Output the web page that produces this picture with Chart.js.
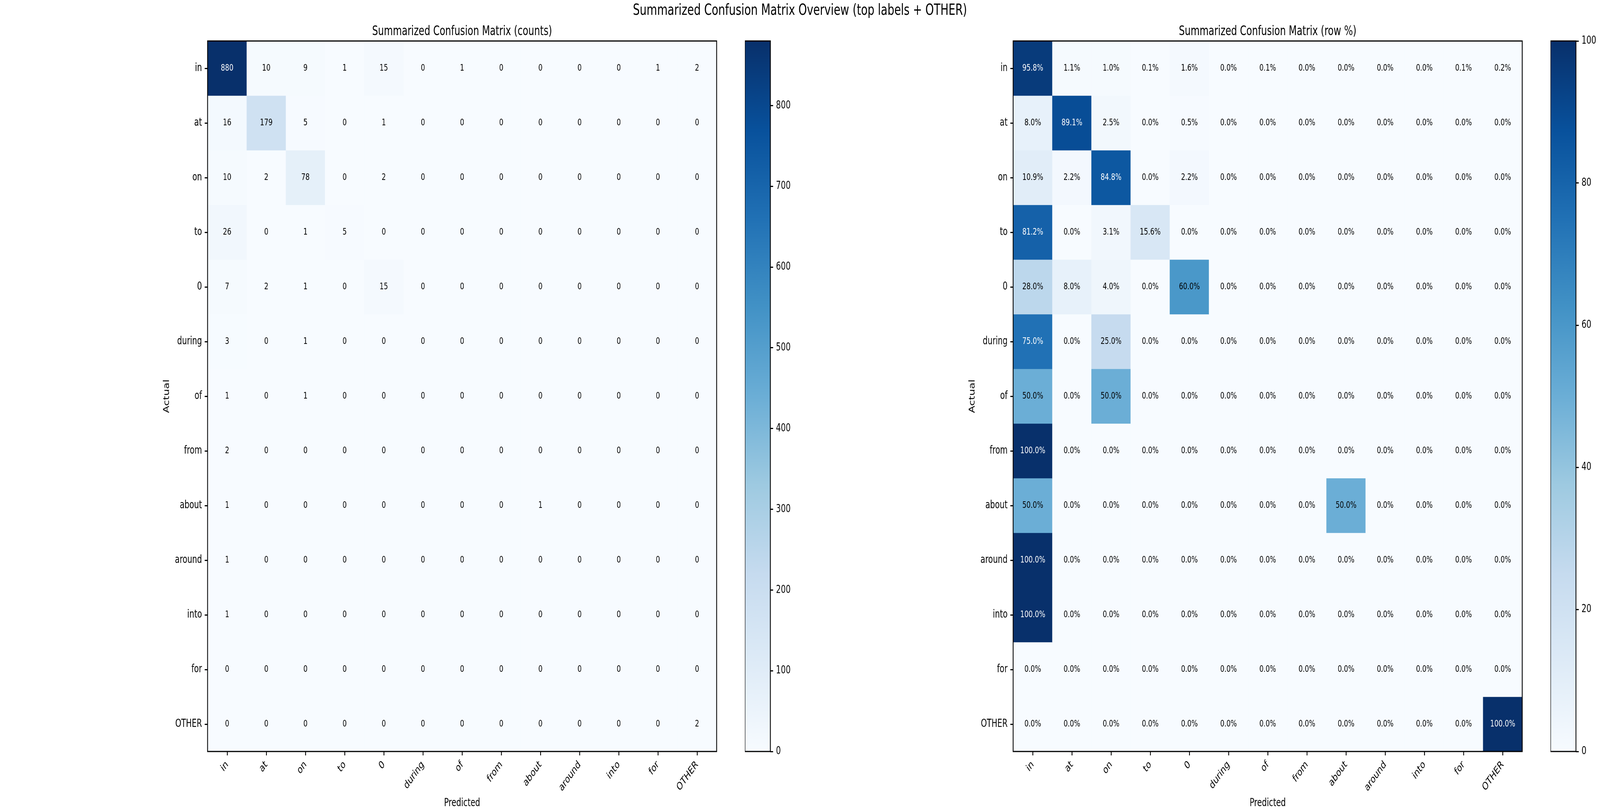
<!DOCTYPE html>
<html lang="en">
<head>
  <meta charset="UTF-8" />
  <title>Summarized Confusion Matrix Overview</title>
  <script src="https://cdn.jsdelivr.net/npm/chart.js@4"></script>
  <style>
    html, body { margin: 0; padding: 0; background: #fff; overflow: hidden; }
    #page { width: 5720px; height: 2080px; position: absolute; left: 0; top: 0; transform-origin: 0 0; font-family: "DejaVu Sans", sans-serif; }
    .box { position: absolute; top: 0; height: 2080px; }
    .txt { position: absolute; transform: translate(-50%, -50%); white-space: nowrap; line-height: 1; color: #000; }
  </style>
</head>
<body>
<div id="page">
  <div class="txt" style="left:2860px;top:25px;font-size:38.5px">Summarized Confusion Matrix Overview (top labels + OTHER)</div>
  <div class="txt" style="left:1652px;top:77.5px;font-size:33px">Summarized Confusion Matrix (counts)</div>
  <div class="txt" style="left:4532px;top:77.5px;font-size:33px">Summarized Confusion Matrix (row %)</div>

  <div class="box" style="left:500px;width:2082px"><canvas id="cmCounts"></canvas></div>
  <div class="box" style="left:2663px;width:211px"><canvas id="cbCounts"></canvas></div>
  <div class="box" style="left:3380px;width:2082px"><canvas id="cmPct"></canvas></div>
  <div class="box" style="left:5543px;width:177px"><canvas id="cbPct"></canvas></div>
</div>

  <script>
    // labels (rows = actual, columns = predicted)
    const predictedLabels = ['in', 'at', 'on', 'to', '0', 'during', 'of', 'from', 'about', 'around', 'into', 'for', 'OTHER'];
    const actualLabels = ['in', 'at', 'on', 'to', '0', 'during', 'of', 'from', 'about', 'around', 'into', 'for', 'OTHER'];

    const counts = [
      [880, 10, 9, 1, 15, 0, 1, 0, 0, 0, 0, 1, 2],
      [16, 179, 5, 0, 1, 0, 0, 0, 0, 0, 0, 0, 0],
      [10, 2, 78, 0, 2, 0, 0, 0, 0, 0, 0, 0, 0],
      [26, 0, 1, 5, 0, 0, 0, 0, 0, 0, 0, 0, 0],
      [7, 2, 1, 0, 15, 0, 0, 0, 0, 0, 0, 0, 0],
      [3, 0, 1, 0, 0, 0, 0, 0, 0, 0, 0, 0, 0],
      [1, 0, 1, 0, 0, 0, 0, 0, 0, 0, 0, 0, 0],
      [2, 0, 0, 0, 0, 0, 0, 0, 0, 0, 0, 0, 0],
      [1, 0, 0, 0, 0, 0, 0, 0, 1, 0, 0, 0, 0],
      [1, 0, 0, 0, 0, 0, 0, 0, 0, 0, 0, 0, 0],
      [1, 0, 0, 0, 0, 0, 0, 0, 0, 0, 0, 0, 0],
      [0, 0, 0, 0, 0, 0, 0, 0, 0, 0, 0, 0, 0],
      [0, 0, 0, 0, 0, 0, 0, 0, 0, 0, 0, 0, 2]
    ];

    const rowPct = [
      [95.8, 1.1, 1.0, 0.1, 1.6, 0.0, 0.1, 0.0, 0.0, 0.0, 0.0, 0.1, 0.2],
      [8.0, 89.1, 2.5, 0.0, 0.5, 0.0, 0.0, 0.0, 0.0, 0.0, 0.0, 0.0, 0.0],
      [10.9, 2.2, 84.8, 0.0, 2.2, 0.0, 0.0, 0.0, 0.0, 0.0, 0.0, 0.0, 0.0],
      [81.2, 0.0, 3.1, 15.6, 0.0, 0.0, 0.0, 0.0, 0.0, 0.0, 0.0, 0.0, 0.0],
      [28.0, 8.0, 4.0, 0.0, 60.0, 0.0, 0.0, 0.0, 0.0, 0.0, 0.0, 0.0, 0.0],
      [75.0, 0.0, 25.0, 0.0, 0.0, 0.0, 0.0, 0.0, 0.0, 0.0, 0.0, 0.0, 0.0],
      [50.0, 0.0, 50.0, 0.0, 0.0, 0.0, 0.0, 0.0, 0.0, 0.0, 0.0, 0.0, 0.0],
      [100.0, 0.0, 0.0, 0.0, 0.0, 0.0, 0.0, 0.0, 0.0, 0.0, 0.0, 0.0, 0.0],
      [50.0, 0.0, 0.0, 0.0, 0.0, 0.0, 0.0, 0.0, 50.0, 0.0, 0.0, 0.0, 0.0],
      [100.0, 0.0, 0.0, 0.0, 0.0, 0.0, 0.0, 0.0, 0.0, 0.0, 0.0, 0.0, 0.0],
      [100.0, 0.0, 0.0, 0.0, 0.0, 0.0, 0.0, 0.0, 0.0, 0.0, 0.0, 0.0, 0.0],
      [0.0, 0.0, 0.0, 0.0, 0.0, 0.0, 0.0, 0.0, 0.0, 0.0, 0.0, 0.0, 0.0],
      [0.0, 0.0, 0.0, 0.0, 0.0, 0.0, 0.0, 0.0, 0.0, 0.0, 0.0, 0.0, 100.0]
    ];

    // colour bar ranges and ticks
    const countMax = 880;
    const pctMax = 100;
    const countTicks = [0, 100, 200, 300, 400, 500, 600, 700, 800];
    const pctTicks = [0, 20, 40, 60, 80, 100];

    // fit the 5720x2080 layout into whatever viewport we get
    const page = document.getElementById('page');
    const sx = window.innerWidth / 5720, sy = window.innerHeight / 2080;
    page.style.transform = 'scale(' + sx + ',' + sy + ')';

    // matplotlib "Blues"
    const BLUES = ['#f7fbff', '#deebf7', '#c6dbef', '#9ecae1', '#6baed6', '#4292c6', '#2171b5', '#08519c', '#08306b'];

    function hexRgb(h) {
      return [parseInt(h.slice(1, 3), 16), parseInt(h.slice(3, 5), 16), parseInt(h.slice(5, 7), 16)];
    }
    function blues(t) {
      t = Math.max(0, Math.min(1, t));
      const p = t * (BLUES.length - 1);
      const i = Math.min(BLUES.length - 2, Math.floor(p));
      const f = p - i;
      const a = hexRgb(BLUES[i]), b = hexRgb(BLUES[i + 1]);
      const c = a.map((v, k) => Math.round(v + (b[k] - v) * f));
      return 'rgb(' + c.join(',') + ')';
    }

    Chart.defaults.font.family = '"DejaVu Sans", sans-serif';
    Chart.defaults.color = '#000';

    const frame = {
      id: 'frame',
      afterDraw(chart) {
        const a = chart.chartArea, ctx = chart.ctx;
        ctx.save();
        ctx.strokeStyle = '#000';
        ctx.lineWidth = 3;
        ctx.strokeRect(a.left, a.top, a.right - a.left, a.bottom - a.top);
        ctx.restore();
      }
    };

    function cellText(values, vmax, fmt) {
      return {
        id: 'cellText',
        afterDatasetsDraw(chart) {
          const ctx = chart.ctx;
          ctx.save();
          ctx.font = '23.5px "DejaVu Sans"';
          ctx.textAlign = 'center';
          ctx.textBaseline = 'middle';
          chart.data.datasets.forEach((ds, r) => {
            chart.getDatasetMeta(r).data.forEach((el, c) => {
              const v = values[r][c];
              const p = el.getCenterPoint();
              ctx.fillStyle = v > vmax * 0.65 ? '#fff' : '#000';
              ctx.fillText(fmt(v), p.x, p.y);
            });
          });
          ctx.restore();
        }
      };
    }

    const tickGrid = { drawOnChartArea: false, tickLength: 10, tickWidth: 3, tickColor: '#000', offset: false };

    function heatmap(id, values, vmax, fmt) {
      return new Chart(document.getElementById(id), {
        type: 'bar',
        data: {
          labels: predictedLabels,
          datasets: actualLabels.map((name, r) => ({
            label: name,
            data: predictedLabels.map(() => [r - 0.5, r + 0.5]),
            backgroundColor: values[r].map(v => blues(v / vmax)),
            borderWidth: 0,
            barPercentage: 1,
            categoryPercentage: 1
          }))
        },
        options: {
          responsive: true,
          maintainAspectRatio: false,
          animation: false,
          layout: { padding: { top: 105, right: 20, left: 0, bottom: 0 } },
          plugins: { legend: { display: false }, tooltip: { enabled: false } },
          scales: {
            x: {
              stacked: true,
              afterFit: s => { s.height = 155; },
              grid: tickGrid,
              border: { display: false },
              ticks: { font: { size: 27.5 }, minRotation: 45, maxRotation: 45, autoSkip: false, padding: 8 },
              title: { display: true, text: 'Predicted', font: { size: 27.5 }, padding: { top: 0, bottom: 6 } }
            },
            y: {
              type: 'linear',
              min: -0.5,
              max: 12.5,
              reverse: true,
              afterFit: s => { s.width = 242; },
              afterBuildTicks: s => { s.ticks = actualLabels.map((_, i) => ({ value: i })); },
              grid: tickGrid,
              border: { display: false },
              ticks: { font: { size: 27.5 }, autoSkip: false, padding: 10, callback: v => actualLabels[v] },
              title: { display: true, text: 'Actual', font: { size: 27.5 }, padding: { top: 80, bottom: 0 } }
            }
          }
        },
        plugins: [cellText(values, vmax, fmt), frame]
      });
    }

    function colorbar(id, vmax, tickValues, axisWidth) {
      return new Chart(document.getElementById(id), {
        type: 'bar',
        data: {
          labels: [''],
          datasets: [{
            data: [[0, vmax]],
            backgroundColor: c => {
              const a = c.chart.chartArea;
              if (!a) return BLUES[0];
              const g = c.chart.ctx.createLinearGradient(0, a.bottom, 0, a.top);
              BLUES.forEach((col, i) => g.addColorStop(i / (BLUES.length - 1), col));
              return g;
            },
            borderWidth: 0,
            barPercentage: 1,
            categoryPercentage: 1
          }]
        },
        options: {
          responsive: true,
          maintainAspectRatio: false,
          animation: false,
          layout: { padding: { top: 105, bottom: 155, left: 0, right: 0 } },
          plugins: { legend: { display: false }, tooltip: { enabled: false } },
          scales: {
            x: { display: false },
            y: {
              position: 'right',
              min: 0,
              max: vmax,
              afterFit: s => { s.width = axisWidth; },
              afterBuildTicks: s => { s.ticks = tickValues.map(v => ({ value: v })); },
              grid: tickGrid,
              border: { display: false },
              ticks: { font: { size: 27.5 }, autoSkip: false, padding: 10 }
            }
          }
        },
        plugins: [frame]
      });
    }

    heatmap('cmCounts', counts, countMax, v => String(v));
    colorbar('cbCounts', countMax, countTicks, 120);
    heatmap('cmPct', rowPct, pctMax, v => v.toFixed(1) + '%');
    colorbar('cbPct', pctMax, pctTicks, 86);
  </script>
</body>
</html>
